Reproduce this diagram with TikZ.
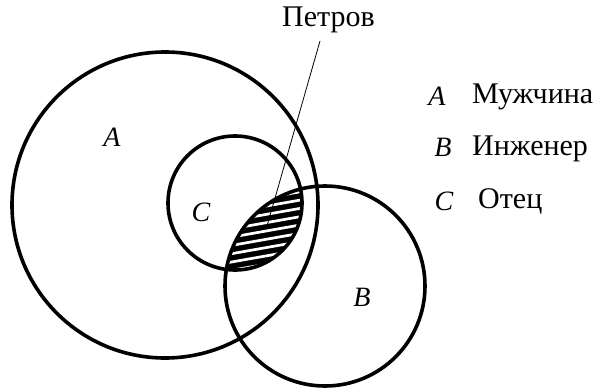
\documentclass[tikz,border=0pt]{standalone}
\usepackage{fontspec}
\setmainfont{Liberation Serif}
\begin{document}
\begin{tikzpicture}[x=1pt,y=-1pt,
  setline/.style={line width=3.6pt},
  letter/.style={font=\fontsize{28}{30}\selectfont\itshape, inner sep=0pt},
  word/.style={font=\fontsize{30}{32}\selectfont, inner sep=0pt, anchor=base west},
  hatch/.style={white, line width=2.7pt},
  leader/.style={line width=0.8pt}
]
\useasboundingbox (0,0) rectangle (597,388);
\coordinate (cA) at (165,205);
\coordinate (cC) at (235,203);
\coordinate (cB) at (325,286);
% hatched lens C and B
\begin{scope}
  \clip (cC) circle[radius=67];
  \clip (cB) circle[radius=100];
  \fill[black] (200,150) rectangle (330,300);
  \foreach \y in {168,176.3,...,320} {
    \draw[hatch] (200,\y) -- (330,\y-23);
  }
\end{scope}
% circles
\draw[setline] (cA) circle[radius=153];
\draw[setline] (cC) circle[radius=67];
\draw[setline] (cB) circle[radius=100];
% labels inside
\node[letter] (lA) at (112,137) {A};
\node[letter] (lC) at (201,212) {C};
\node[letter] (lB) at (362,297) {B};
% Petrov
\node[word] (petrov) at (282,27) {Петров};
\coordinate (p1) at (320,41);
\coordinate (p2) at (267,226);
\draw[leader] (p1) -- (p2);
% legend
\node[letter] (kA) at (437,96) {A};
\node[word] (tA) at (472,103) {Мужчина};
\node[letter] (kB) at (443,147) {B};
\node[word] (tB) at (472,155) {Инженер};
\node[letter] (kC) at (444,201) {C};
\node[word] (tC) at (478,208) {Отец};
\end{tikzpicture}
\end{document}
